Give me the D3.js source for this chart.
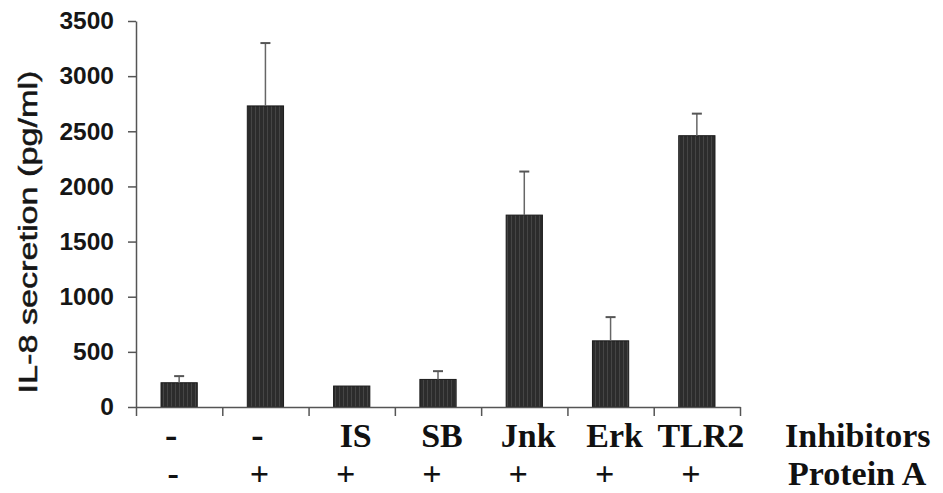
<!DOCTYPE html>
<html>
<head>
<meta charset="utf-8">
<script src="https://cdn.jsdelivr.net/npm/d3@7"></script>
<style>
  body { margin: 0; background: #fff; }
  svg { display: block; }
  .yaxis text { font-family: "Liberation Sans", Arial, sans-serif; font-weight: bold; font-size: 24.5px; fill: #161616; }
  .axis path, .axis line { stroke: #555; stroke-width: 1.5; }
  .cat { font-family: "Liberation Serif", "Times New Roman", serif; font-weight: bold; font-size: 34px; fill: #111; }
  .sym { font-size: 37px; }
</style>
</head>
<body>
<script>
// data
const categories = ['ctrl', 'ProtA', 'IS', 'SB', 'Jnk', 'Erk', 'TLR2'];
const values = [220, 2730, 190, 250, 1740, 600, 2460];
const errors = [60, 570, 0, 75, 395, 215, 200];
const inhibitorRow = ['-', '-', 'IS', 'SB', 'Jnk', 'Erk', 'TLR2'];
const proteinRow = ['-', '+', '+', '+', '+', '+', '+'];
const yTicks = [0, 500, 1000, 1500, 2000, 2500, 3000, 3500];

const width = 943, height = 493;
const mLeft = 136, mRight = 740, mTop = 21, mBottom = 407;

const svg = d3.select('body').append('svg')
  .attr('width', width)
  .attr('height', height);

// vertical stripe texture on the bars
const pat = svg.append('defs').append('pattern')
  .attr('id', 'stripes')
  .attr('patternUnits', 'userSpaceOnUse')
  .attr('width', 4).attr('height', 4);
pat.append('rect').attr('width', 4).attr('height', 4).attr('fill', '#2c2c2c');
pat.append('rect').attr('x', 3).attr('width', 1).attr('height', 4).attr('fill', '#454545');

const x = d3.scaleBand()
  .domain(categories)
  .range([mLeft, mRight])
  .paddingInner(0.58)
  .paddingOuter(0.29);

// boundaries between categories, for the x ticks
const xb = d3.scaleLinear().domain([0, categories.length]).range([mLeft, mRight]);

const y = d3.scaleLinear().domain([0, 3500]).range([mBottom, mTop]);

// bars
svg.selectAll('.bar')
  .data(values)
  .enter().append('rect')
  .attr('class', 'bar')
  .attr('x', (d, i) => x(categories[i]))
  .attr('y', d => y(d))
  .attr('width', x.bandwidth())
  .attr('height', d => y(0) - y(d))
  .attr('fill', 'url(#stripes)')
  .attr('stroke', '#1a1a1a')
  .attr('stroke-width', 1);

// error bars (upper only)
const eb = svg.selectAll('.err')
  .data(values.map((v, i) => ({ v: v, e: errors[i], c: categories[i] })).filter(d => d.e > 0))
  .enter().append('g')
  .attr('class', 'err');
eb.append('line')
  .attr('x1', d => x(d.c) + x.bandwidth() / 2)
  .attr('x2', d => x(d.c) + x.bandwidth() / 2)
  .attr('y1', d => y(d.v))
  .attr('y2', d => y(d.v + d.e))
  .attr('stroke', '#666').attr('stroke-width', 1.5);
eb.append('line')
  .attr('x1', d => x(d.c) + x.bandwidth() / 2 - 5)
  .attr('x2', d => x(d.c) + x.bandwidth() / 2 + 5)
  .attr('y1', d => y(d.v + d.e))
  .attr('y2', d => y(d.v + d.e))
  .attr('stroke', '#555').attr('stroke-width', 2);

// y axis
svg.append('g')
  .attr('class', 'axis yaxis')
  .attr('transform', 'translate(' + mLeft + ',0)')
  .call(d3.axisLeft(y).tickValues(yTicks).tickSize(8).tickPadding(14).tickSizeOuter(0).tickFormat(d3.format('d')));

// x axis: ticks at the category boundaries
svg.append('g')
  .attr('class', 'axis')
  .attr('transform', 'translate(0,' + mBottom + ')')
  .call(d3.axisBottom(xb).tickValues(d3.range(categories.length + 1)).tickSize(9).tickSizeOuter(0).tickFormat(''));

// y label
svg.append('text')
  .attr('transform', 'translate(37,232) rotate(-90)')
  .attr('text-anchor', 'middle')
  .attr('textLength', 323)
  .attr('lengthAdjust', 'spacingAndGlyphs')
  .style('font-family', '"Liberation Sans", Arial, sans-serif')
  .style('font-size', '26px')
  .style('fill', '#161616')
  .style('stroke', '#161616')
  .style('stroke-width', 0.5)
  .text('IL-8 secretion (pg/ml)');

// condition rows below the axis
const cx = c => x(c) + x.bandwidth() / 2;
svg.selectAll('.row1')
  .data(inhibitorRow)
  .enter().append('text')
  .attr('class', d => d === '-' ? 'cat sym row1' : 'cat row1')
  .attr('x', (d, i) => cx(categories[i]) + (d === '-' ? -8 : 4))
  .attr('y', 447)
  .attr('text-anchor', 'middle')
  .text(d => d);
svg.selectAll('.row2')
  .data(proteinRow)
  .enter().append('text')
  .attr('class', 'cat row2')
  .attr('x', (d, i) => cx(categories[i]) - 6)
  .attr('y', 485)
  .attr('text-anchor', 'middle')
  .text(d => d);

svg.append('text').attr('class', 'cat').attr('x', 785).attr('y', 447).text('Inhibitors');
svg.append('text').attr('class', 'cat').attr('x', 788).attr('y', 485).text('Protein A');
</script>
</body>
</html>
